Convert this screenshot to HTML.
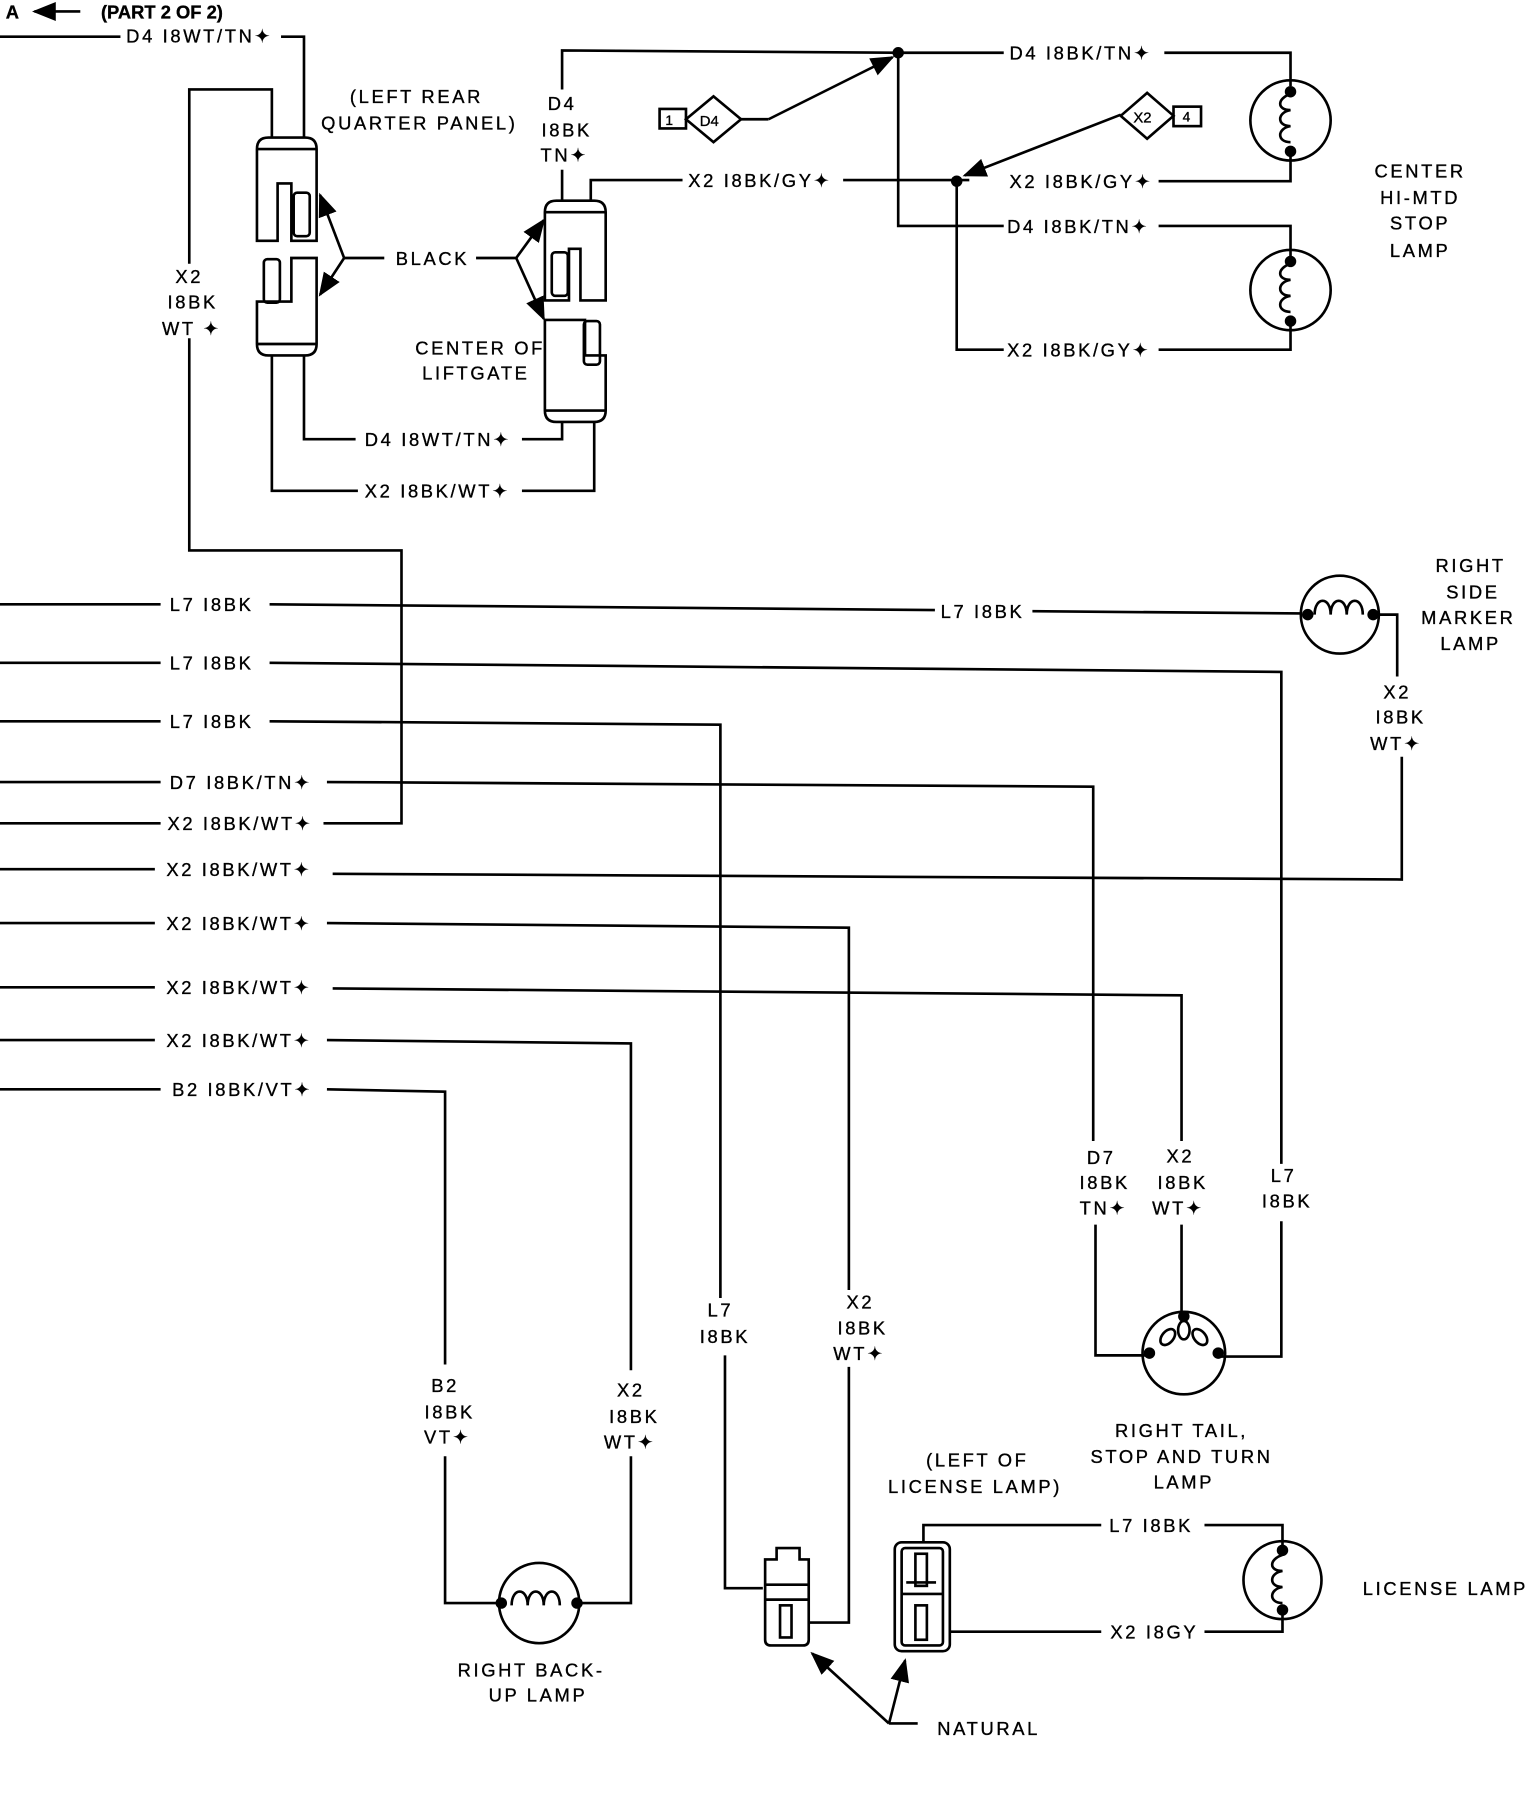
<!DOCTYPE html>
<html><head><meta charset="utf-8"><style>
html,body{margin:0;padding:0;background:#fff;}
svg{display:block}
text{font-family:"Liberation Sans",sans-serif;font-size:16px;fill:#000;letter-spacing:2.3px;stroke:#000;stroke-width:0.3px}
.c{text-anchor:middle}
</style></head><body>
<svg width="1536" height="1798" viewBox="0 0 1339 1568" preserveAspectRatio="none" xmlns="http://www.w3.org/2000/svg">
<defs><marker id="ar" viewBox="0 0 10 10" refX="9" refY="5" markerWidth="9" markerHeight="9" orient="auto"><path d="M0,1 L10,5 L0,9 z" fill="#000"/></marker></defs>
<g fill="none" stroke="#000" stroke-width="2.3">
<line x1="70" y1="10" x2="30" y2="10" marker-end="url(#ar)"/>
<polyline points="0,32 105,32"/>
<polyline points="245,32 265,32 265,120"/>
<polyline points="237,120 237,78 165,78 165,230"/>
<polyline points="165,295 165,480 350,480 350,718 282,718"/>
<path d="M224,130 q0,-10 10,-10 h32 q10,0 10,10 v80 h-22 v-50 h-12 v50 h-18 z"/>
<line x1="224" y1="130" x2="276" y2="130"/>
<rect x="256" y="168" width="14" height="38" rx="3"/>
<path d="M224,300 q0,10 10,10 h32 q10,0 10,-10 v-75 h-22 v38 h-30 z"/>
<line x1="224" y1="300" x2="276" y2="300"/>
<rect x="230" y="226" width="14" height="38" rx="3"/>
<line x1="300" y1="225" x2="279" y2="170" marker-end="url(#ar)"/>
<line x1="300" y1="225" x2="279" y2="257" marker-end="url(#ar)"/>
<line x1="300" y1="225" x2="335" y2="225"/>
<line x1="415" y1="225" x2="450" y2="225"/>
<line x1="450" y1="225" x2="474" y2="192" marker-end="url(#ar)"/>
<line x1="450" y1="225" x2="474" y2="278" marker-end="url(#ar)"/>
<path d="M475,185 q0,-10 10,-10 h33 q10,0 10,10 v77 h-22 v-45 h-10 v45 h-21 z"/>
<line x1="475" y1="185" x2="528" y2="185"/>
<rect x="481" y="220" width="14" height="38" rx="3"/>
<path d="M475,358 q0,10 10,10 h33 q10,0 10,-10 v-48 h-18 v-31 h-35 z"/>
<line x1="475" y1="358" x2="528" y2="358"/>
<rect x="509" y="280" width="14" height="38" rx="3"/>
<polyline points="265,310 265,383 310,383"/>
<polyline points="455,383 490,383 490,368"/>
<polyline points="237,310 237,428 312,428"/>
<polyline points="455,428 518,428 518,368"/>
<polyline points="490,175 490,148"/>
<polyline points="490,78 490,44 783,46 875,46"/>
<polyline points="1015,46 1125,46 1125,75"/>
<polyline points="515,175 515,157 595,157"/>
<polyline points="735,157 845,157"/>
<circle cx="1125" cy="105" r="35"/>
<polyline points="1125,132 1125,158 1010,158"/>
<polyline points="834,158 834,305 875,305"/>
<polyline points="1010,305 1125,305 1125,283"/>
<circle cx="1125" cy="253" r="35"/>
<polyline points="783,46 783,197 875,197"/>
<polyline points="1010,197 1125,197 1125,225"/>
<rect x="575" y="95" width="23" height="17"/>
<path d="M598,104 L622,84 L646,104 L622,124 z"/>
<polyline points="646,104 670,104"/>
<line x1="670" y1="104" x2="778" y2="50" marker-end="url(#ar)"/>
<rect x="1023" y="93" width="24" height="17"/>
<path d="M977,101 L1000,81 L1023,101 L1000,121 z"/>
<line x1="977" y1="100" x2="841" y2="153" marker-end="url(#ar)"/>
<path d="M1125,82 c-12,4 -12,14 0,14 c-12,2 -12,14 0,14 c-12,2 -12,14 0,14"/>
<path d="M1125,230 c-12,4 -12,14 0,14 c-12,2 -12,14 0,14 c-12,2 -12,14 0,14"/>
<line x1="0" y1="527" x2="140" y2="527"/>
<line x1="235" y1="527" x2="815" y2="532"/>
<line x1="900" y1="533" x2="1135" y2="535"/>
<circle cx="1168" cy="536" r="34"/>
<path d="M1146,536 c0,-16 14,-16 14,0 c0,-16 14,-16 14,0 c0,-16 14,-16 14,0"/>
<polyline points="1197,536 1218,536 1218,590"/>
<polyline points="1222,660 1222,767 290,762"/>
<line x1="0" y1="758" x2="135" y2="758"/>
<line x1="0" y1="578" x2="140" y2="578"/>
<polyline points="235,578 1117,586 1117,1015"/>
<polyline points="1117,1065 1117,1183 1062,1183"/>
<line x1="0" y1="629" x2="140" y2="629"/>
<polyline points="235,629 628,632 628,1132"/>
<polyline points="632,1182 632,1385 665,1385"/>
<line x1="0" y1="682" x2="140" y2="682"/>
<polyline points="285,682 953,686 953,995"/>
<polyline points="955,1068 955,1182 1000,1182"/>
<line x1="0" y1="718" x2="140" y2="718"/>
<line x1="0" y1="805" x2="135" y2="805"/>
<polyline points="285,805 740,809 740,1125"/>
<polyline points="740,1192 740,1415 705,1415"/>
<line x1="0" y1="861" x2="135" y2="861"/>
<polyline points="290,862 1030,868 1030,995"/>
<polyline points="1030,1068 1030,1148"/>
<line x1="0" y1="907" x2="135" y2="907"/>
<polyline points="285,907 550,910 550,1195"/>
<polyline points="550,1270 550,1398 505,1398"/>
<line x1="0" y1="950" x2="140" y2="950"/>
<polyline points="285,950 388,952 388,1190"/>
<polyline points="388,1270 388,1398 435,1398"/>
<circle cx="470" cy="1398" r="35"/>
<path d="M446,1400 c0,-16 14,-16 14,0 c0,-16 14,-16 14,0 c0,-16 14,-16 14,0"/>
<circle cx="1032" cy="1180" r="36"/>
<ellipse cx="1018" cy="1166" rx="5" ry="8" transform="rotate(40 1018 1166)"/>
<ellipse cx="1032" cy="1160" rx="5" ry="8"/>
<ellipse cx="1046" cy="1166" rx="5" ry="8" transform="rotate(-40 1046 1166)"/>
<path d="M667,1360 h10 v-10 h20 v10 h8 v70 q0,5 -5,5 h-28 q-5,0 -5,-5 z"/>
<line x1="667" y1="1382" x2="705" y2="1382"/>
<line x1="667" y1="1395" x2="705" y2="1395"/>
<rect x="680" y="1400" width="10" height="28"/>
<rect x="780" y="1345" width="48" height="95" rx="6"/>
<rect x="786" y="1350" width="36" height="85" rx="3"/>
<line x1="786" y1="1390" x2="822" y2="1390"/>
<rect x="798" y="1355" width="10" height="28"/>
<rect x="798" y="1400" width="10" height="30"/>
<polyline points="790,1380 816,1380"/>
<polyline points="805,1345 805,1330 960,1330"/>
<polyline points="1050,1330 1118,1330 1118,1350"/>
<circle cx="1118" cy="1378" r="34"/>
<path d="M1118,1356 c-12,4 -12,14 0,14 c-12,2 -12,14 0,14 c-12,2 -12,14 0,14"/>
<polyline points="1118,1405 1118,1423 1050,1423"/>
<polyline points="960,1423 828,1423"/>
<line x1="775" y1="1503" x2="708" y2="1442" marker-end="url(#ar)"/>
<line x1="775" y1="1503" x2="789" y2="1448" marker-end="url(#ar)"/>
<line x1="775" y1="1503" x2="800" y2="1503"/>
</g>
<g fill="#000">
<circle cx="783" cy="46" r="5"/><circle cx="834" cy="158" r="5"/>
<circle cx="1125" cy="80" r="5"/><circle cx="1125" cy="132" r="5"/>
<circle cx="1125" cy="228" r="5"/><circle cx="1125" cy="280" r="5"/>
<circle cx="1140" cy="536" r="5"/><circle cx="1197" cy="536" r="5"/>
<circle cx="437" cy="1398" r="5"/><circle cx="503" cy="1398" r="5"/>
<circle cx="1002" cy="1180" r="5"/><circle cx="1062" cy="1180" r="5"/><circle cx="1032" cy="1148" r="5"/>
<circle cx="1118" cy="1352" r="5"/><circle cx="1118" cy="1404" r="5"/>
</g>
<text x="5" y="16" style="font-weight:bold;font-size:16px;letter-spacing:0">A</text>
<text x="88" y="16" style="font-weight:bold;font-size:16px;letter-spacing:0">(PART 2 OF 2)</text>
<text x="110" y="37">D4 I8WT/TN✦</text>
<text x="305" y="90">(LEFT REAR</text>
<text x="280" y="113">QUARTER PANEL)</text>
<text x="345" y="231">BLACK</text>
<text x="362" y="309">CENTER OF</text>
<text x="368" y="331">LIFTGATE</text>
<text x="318" y="389">D4 I8WT/TN✦</text>
<text x="318" y="434">X2 I8BK/WT✦</text>
<text class="c" x="165" y="247">X2</text><text class="c" x="168" y="269">I8BK</text><text class="c" x="167" y="292">WT ✦</text>
<text class="c" x="490" y="96">D4</text><text class="c" x="494" y="119">I8BK</text><text class="c" x="492" y="141">TN✦</text>
<text x="600" y="163">X2 I8BK/GY✦</text>
<text x="580" y="109" style="font-size:12px">1</text><text x="610" y="110" style="font-size:13px;letter-spacing:0">D4</text>
<text x="988" y="107" style="font-size:13px;letter-spacing:0">X2</text><text x="1031" y="106" style="font-size:12px">4</text>
<text x="880" y="52">D4 I8BK/TN✦</text>
<text x="880" y="164">X2 I8BK/GY✦</text>
<text x="878" y="203">D4 I8BK/TN✦</text>
<text x="878" y="311">X2 I8BK/GY✦</text>
<text class="c" x="1238" y="155">CENTER</text><text class="c" x="1238" y="178">HI-MTD</text><text class="c" x="1238" y="200">STOP</text><text class="c" x="1238" y="224">LAMP</text>
<text x="148" y="533">L7 I8BK</text>
<text x="820" y="539">L7 I8BK</text>
<text class="c" x="1282" y="499">RIGHT</text><text class="c" x="1284" y="522">SIDE</text><text class="c" x="1280" y="544">MARKER</text><text class="c" x="1282" y="567">LAMP</text>
<text class="c" x="1218" y="609">X2</text><text class="c" x="1221" y="631">I8BK</text><text class="c" x="1217" y="654">WT✦</text>
<text x="148" y="584">L7 I8BK</text>
<text x="148" y="635">L7 I8BK</text>
<text x="148" y="688">D7 I8BK/TN✦</text>
<text x="146" y="724">X2 I8BK/WT✦</text>
<text x="145" y="764">X2 I8BK/WT✦</text>
<text x="145" y="811">X2 I8BK/WT✦</text>
<text x="145" y="867">X2 I8BK/WT✦</text>
<text x="145" y="913">X2 I8BK/WT✦</text>
<text x="150" y="956">B2 I8BK/VT✦</text>
<text class="c" x="960" y="1015">D7</text><text class="c" x="963" y="1037">I8BK</text><text class="c" x="962" y="1059">TN✦</text>
<text class="c" x="1029" y="1014">X2</text><text class="c" x="1031" y="1037">I8BK</text><text class="c" x="1027" y="1059">WT✦</text>
<text class="c" x="1119" y="1031">L7</text><text class="c" x="1122" y="1053">I8BK</text>
<text class="c" x="628" y="1148">L7</text><text class="c" x="632" y="1171">I8BK</text>
<text class="c" x="750" y="1141">X2</text><text class="c" x="752" y="1164">I8BK</text><text class="c" x="749" y="1186">WT✦</text>
<text class="c" x="388" y="1214">B2</text><text class="c" x="392" y="1237">I8BK</text><text class="c" x="390" y="1259">VT✦</text>
<text class="c" x="550" y="1218">X2</text><text class="c" x="553" y="1241">I8BK</text><text class="c" x="549" y="1263">WT✦</text>
<text class="c" x="1030" y="1253">RIGHT TAIL,</text><text class="c" x="1030" y="1276">STOP AND TURN</text><text class="c" x="1032" y="1298">LAMP</text>
<text class="c" x="852" y="1279">(LEFT OF</text><text class="c" x="850" y="1302">LICENSE LAMP)</text>
<text x="967" y="1336">L7 I8BK</text>
<text x="968" y="1429">X2 I8GY</text>
<text x="1188" y="1391">LICENSE LAMP</text>
<text class="c" x="463" y="1462">RIGHT BACK-</text><text class="c" x="469" y="1484">UP LAMP</text>
<text x="817" y="1513">NATURAL</text>
</svg>
</body></html>
